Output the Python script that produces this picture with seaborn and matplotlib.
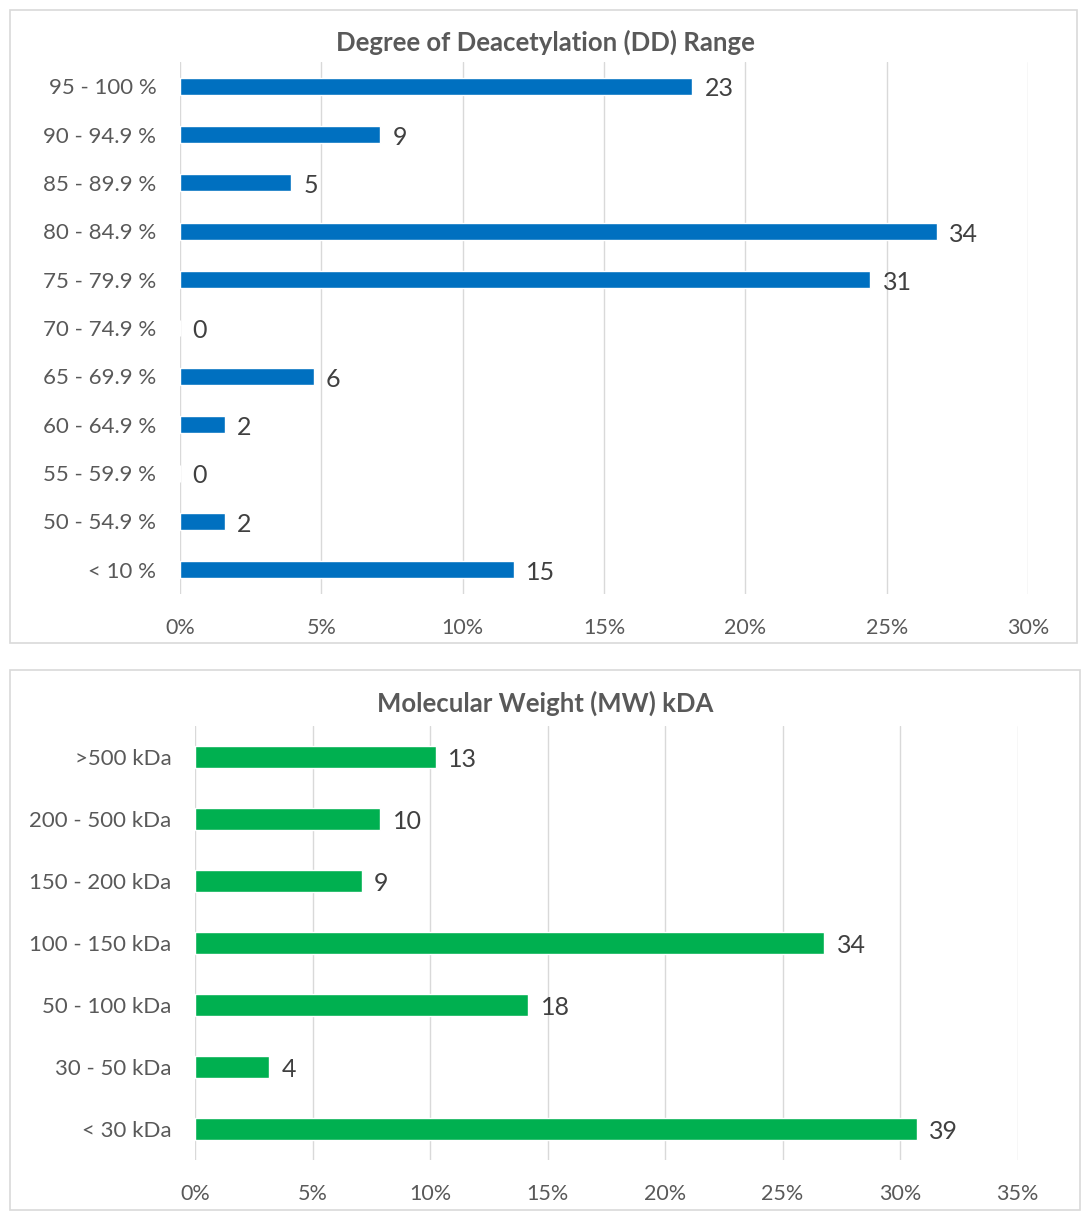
import numpy as np
import pandas as pd
import seaborn as sns
import matplotlib.pyplot as plt
from matplotlib.patches import Rectangle
from matplotlib.ticker import FuncFormatter

# Degree of deacetylation (counts of studies)
dd_ranges = ['95 - 100 %', '90 - 94.9 %', '85 - 89.9 %', '80 - 84.9 %', '75 - 79.9 %',
             '70 - 74.9 %', '65 - 69.9 %', '60 - 64.9 %', '55 - 59.9 %', '50 - 54.9 %', '< 10 %']
dd_counts = [23, 9, 5, 34, 31, 0, 6, 2, 0, 2, 15]

# Molecular weight (counts of studies)
mw_ranges = ['>500 kDa', '200 - 500 kDa', '150 - 200 kDa', '100 - 150 kDa',
             '50 - 100 kDa', '30 - 50 kDa', '< 30 kDa']
mw_counts = [13, 10, 9, 34, 18, 4, 39]

dd = pd.DataFrame({'range': dd_ranges, 'count': dd_counts})
dd['pct'] = dd['count'] / dd['count'].sum() * 100
mw = pd.DataFrame({'range': mw_ranges, 'count': mw_counts})
mw['pct'] = mw['count'] / mw['count'].sum() * 100

sns.set_theme(style='white')
plt.rcParams['font.family'] = ['Lato', 'DejaVu Sans']

W, H = 1089, 1218
fig = plt.figure(figsize=(W / 100, H / 100), dpi=100)

def frame(x0, y0, x1, y1):
    fig.patches.append(Rectangle((x0 / W, 1 - y1 / H), (x1 - x0) / W, (y1 - y0) / H,
                                 transform=fig.transFigure, fill=False,
                                 edgecolor='#D9D9D9', linewidth=1.2))

def panel(rect, data, color, title, xmax, title_y):
    ax = fig.add_axes(rect)
    sns.barplot(data=data, x='pct', y='range', orient='h', color=color,
                width=0.35, saturation=1, ax=ax)
    ax.set_xlim(0, xmax)
    ax.set_xticks(np.arange(0, xmax + 0.1, 5))
    ax.xaxis.set_major_formatter(FuncFormatter(lambda v, p: f'{v:.0f}%'))
    ax.grid(axis='x', color='#D9D9D9', linewidth=1)
    ax.set_axisbelow(True)
    for s in ax.spines.values():
        s.set_visible(False)
    ax.tick_params(axis='both', length=0, labelcolor='#595959')
    ax.tick_params(axis='x', pad=17, labelsize=15.5)
    ax.tick_params(axis='y', pad=17, labelsize=16)
    ax.set_xlabel('')
    ax.set_ylabel('')
    labels = ax.bar_label(ax.containers[0], labels=[str(c) for c in data['count']],
                          padding=9, fontsize=18, color='#404040')
    for t in labels:
        t.set_y(-2)
    fig.text(545 / W, title_y, title, ha='center', va='center',
             fontsize=18.5, fontweight='bold', color='#595959')
    return ax

frame(10, 10, 1077, 643)
frame(10, 670, 1080, 1210)

panel([180 / W, 1 - 594 / H, 848 / W, 532 / H], dd, '#0070C0',
      'Degree of Deacetylation (DD) Range', 30, 1 - 42 / H)
panel([195 / W, 1 - 1160 / H, 822.5 / W, 434 / H], mw, '#00B050',
      'Molecular Weight (MW) kDA', 35, 1 - 703 / H)

fig.savefig('out.png', dpi=100, facecolor='white')
